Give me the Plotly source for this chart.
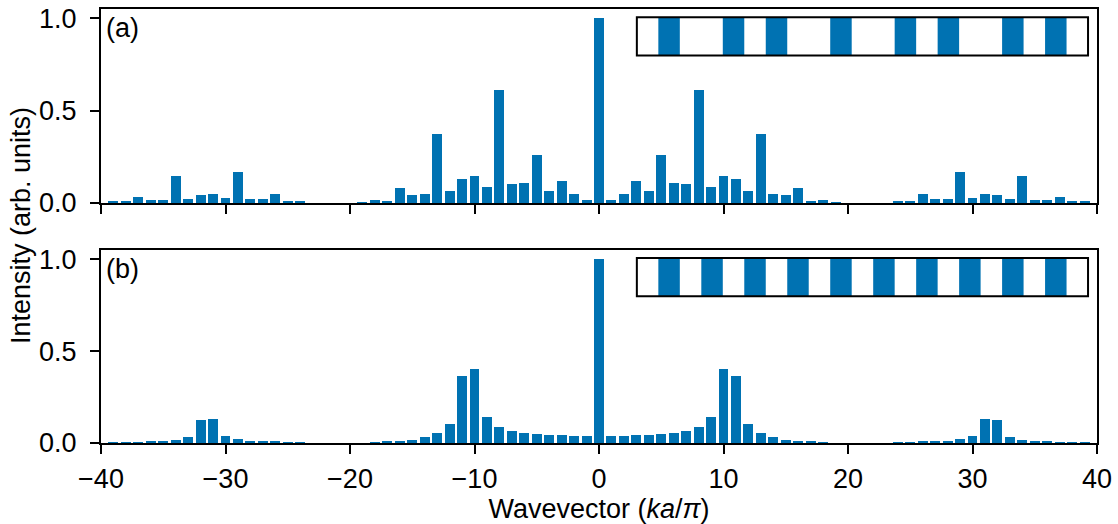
import plotly.graph_objects as go

# ---- data ----
wavevector = list(range(-39, 40))

intensity_a = [
    0.007, 0.007, 0.034, 0.018, 0.018, 0.148, 0.023, 0.045, 0.05, 0.029,
    0.17, 0.023, 0.023, 0.05, 0.013, 0.013, 0.0, 0.0, 0.0, 0.0,
    0.005, 0.016, 0.011, 0.082, 0.043, 0.049, 0.375, 0.065, 0.13, 0.147,
    0.087, 0.609, 0.103, 0.109, 0.261, 0.065, 0.12, 0.049, 0.016,
    1.0,
    0.016, 0.049, 0.12, 0.065, 0.261, 0.109, 0.103, 0.609, 0.087, 0.147,
    0.13, 0.065, 0.375, 0.049, 0.043, 0.082, 0.011, 0.016, 0.005, 0.0,
    0.0, 0.0, 0.0, 0.013, 0.013, 0.05, 0.023, 0.023, 0.17, 0.029,
    0.05, 0.045, 0.023, 0.148, 0.018, 0.018, 0.034, 0.007, 0.007,
]

intensity_b = [
    0.001, 0.004, 0.004, 0.007, 0.007, 0.018, 0.034, 0.127, 0.132, 0.04,
    0.024, 0.013, 0.007, 0.007, 0.004, 0.004, 0.0, 0.0, 0.0, 0.0,
    0.0, 0.003, 0.007, 0.013, 0.018, 0.034, 0.056, 0.105, 0.366, 0.404,
    0.143, 0.089, 0.067, 0.056, 0.051, 0.045, 0.045, 0.04, 0.04,
    1.0,
    0.04, 0.04, 0.045, 0.045, 0.051, 0.056, 0.067, 0.089, 0.143, 0.404,
    0.366, 0.105, 0.056, 0.034, 0.018, 0.013, 0.007, 0.003, 0.0, 0.0,
    0.0, 0.0, 0.0, 0.004, 0.004, 0.007, 0.007, 0.013, 0.024, 0.04,
    0.132, 0.127, 0.034, 0.018, 0.007, 0.007, 0.004, 0.004, 0.001,
]

# structure sketches in the insets (B = filled layer, W = empty)
structure_a = "WBWWBWBWWBWWBWBWWBWBW"
structure_b = "WBWBWBWBWBWBWBWBWBWBW"

x_ticks = [-40, -30, -20, -10, 0, 10, 20, 30, 40]
y_ticks = [0.0, 0.5, 1.0]
y_tick_text = ["0.0", "0.5", "1.0"]
panel_labels = ["(a)", "(b)"]

# ---- style ----
BLUE = "#0072b2"
FONT = "Liberation Sans, Arial, Helvetica, sans-serif"
FS = 27

fig = go.Figure()
fig.add_trace(go.Bar(x=wavevector, y=intensity_a, width=0.8, marker=dict(color=BLUE, line=dict(width=0)),
                     xaxis="x", yaxis="y", showlegend=False))
fig.add_trace(go.Bar(x=wavevector, y=intensity_b, width=0.8, marker=dict(color=BLUE, line=dict(width=0)),
                     xaxis="x2", yaxis="y2", showlegend=False))

axis_common = dict(showline=True, linecolor="black", linewidth=2, mirror=True,
                   ticks="outside", ticklen=9, tickwidth=2, tickcolor="black",
                   showgrid=False, zeroline=False, automargin=False,
                   tickfont=dict(family=FONT, size=FS, color="black"))

fig.update_layout(
    width=1118, height=524,
    margin=dict(l=101, r=21, t=9, b=81, autoexpand=False),
    paper_bgcolor="white", plot_bgcolor="white",
    font=dict(family=FONT, size=FS, color="black"),
    bargap=0,
    xaxis=dict(domain=[0, 1], anchor="y", range=[-40, 40], tickvals=x_ticks,
               showticklabels=False, **axis_common),
    yaxis=dict(domain=[0.553, 1], anchor="x", range=[0, 1.05], tickvals=y_ticks,
               ticktext=y_tick_text, ticklabelstandoff=8, **axis_common),
    xaxis2=dict(domain=[0, 1], anchor="y2", range=[-40, 40], tickvals=x_ticks,
                ticklabelstandoff=2,
                title=dict(text="Wavevector (<i>ka</i>/<i>π</i>)", font=dict(family=FONT, size=FS),
                           standoff=5),
                **axis_common),
    yaxis2=dict(domain=[0, 0.4447], anchor="x2", range=[0, 1.05], tickvals=y_ticks,
                ticktext=y_tick_text, ticklabelstandoff=8, **axis_common),
)

# shared y label
fig.add_annotation(text="Intensity (arb. units)", xref="paper", yref="paper",
                   x=-0.0803, y=0.5, xanchor="center", yanchor="middle", textangle=-90,
                   showarrow=False, font=dict(family=FONT, size=FS, color="black"))

# panel labels and insets
shapes = []
for i, (lab, struct) in enumerate(zip(panel_labels, [structure_a, structure_b])):
    xr = "x domain" if i == 0 else "x2 domain"
    yr = "y domain" if i == 0 else "y2 domain"
    fig.add_annotation(text=lab, xref=xr, yref=yr, x=0.003, y=0.99, xanchor="left", yanchor="top",
                       showarrow=False, font=dict(family=FONT, size=FS, color="black"))
    bx0, bx1, by0, by1 = 0.538, 0.991, 0.76, 0.958
    n = len(struct)
    u = (bx1 - bx0) / n
    shapes.append(dict(type="rect", xref=xr, yref=yr, x0=bx0, x1=bx1, y0=by0, y1=by1,
                       fillcolor="white", line=dict(width=0), layer="above"))
    for j, c in enumerate(struct):
        if c == "B":
            shapes.append(dict(type="rect", xref=xr, yref=yr, x0=bx0 + j * u, x1=bx0 + (j + 1) * u,
                               y0=by0, y1=by1, fillcolor=BLUE, line=dict(width=0), layer="above"))
    shapes.append(dict(type="rect", xref=xr, yref=yr, x0=bx0, x1=bx1, y0=by0, y1=by1,
                       fillcolor="rgba(0,0,0,0)", line=dict(color="black", width=2), layer="above"))
fig.update_layout(shapes=shapes)

fig.write_html("out.html")
